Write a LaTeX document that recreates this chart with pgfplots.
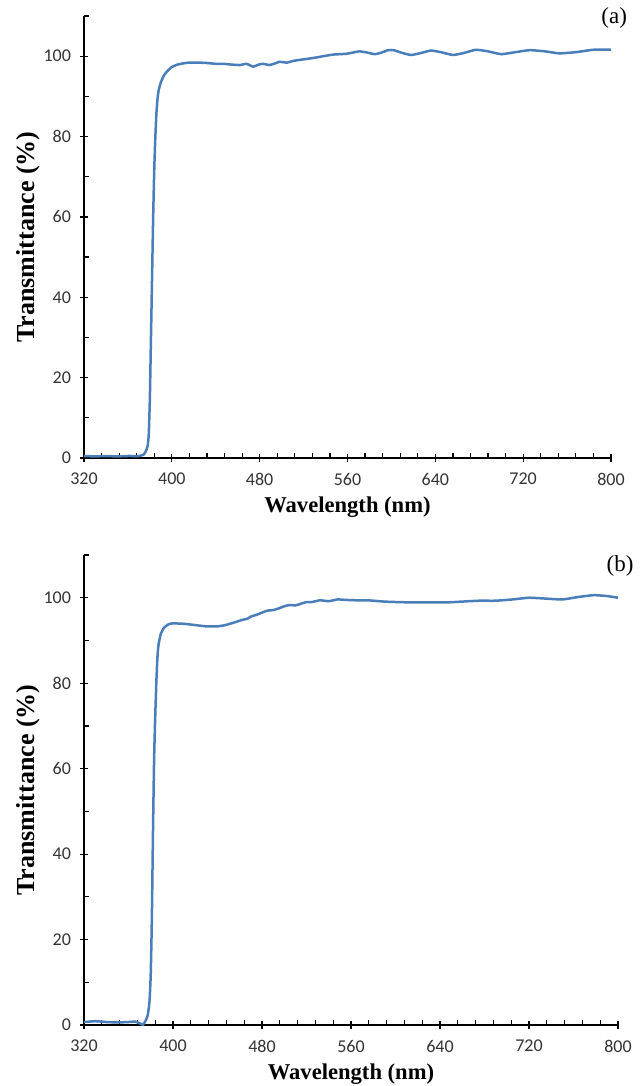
\documentclass[border=0pt]{standalone}
\usepackage{fontspec}
\setmainfont{Carlito}
\newfontfamily\serifb{Liberation Serif}
\usepackage{pgfplots}
\pgfplotsset{compat=1.18}
\definecolor{xlblue}{RGB}{74,126,187}

% transmittance spectra
\pgfplotstableread{
lam T
320 0.5
330 0.4
340 0.5
350 0.4
360 0.5
370 0.5
374 0.8
376 1.5
378 3
379 6
380 15
381 30
382 45
383 60
384 72
385 80
386 86
387 89.5
388 91.5
390 93.5
393 95.3
396 96.3
400 97.3
405 97.9
410 98.2
416 98.4
425 98.4
432 98.3
440 98.1
447 98.1
455 97.9
462 97.8
468 98.1
474 97.4
479 97.9
483 98.1
489 97.8
494 98.2
498 98.6
505 98.4
510 98.8
517 99.1
525 99.4
532 99.7
540 100.1
547 100.4
553 100.5
559 100.6
565 100.9
571 101.2
578 100.9
585 100.5
591 100.9
597 101.5
602 101.5
610 100.8
618 100.3
627 100.8
636 101.4
645 101.0
656 100.3
666 100.8
677 101.6
688 101.2
700 100.5
713 101.0
726 101.5
740 101.2
753 100.7
768 101.0
784 101.6
800 101.6
}\dataA

\pgfplotstableread{
lam T
320 0.7
325 0.8
330 0.9
335 0.8
340 0.7
350 0.6
360 0.7
366 0.8
370 0.4
373 0.1
375 0.8
377 2
378 3.5
379 6
380 12
381 25
382 45
383 62
384 72
385 80
386 86
387 89
389 91.5
392 93
396 93.8
400 94.0
410 93.9
420 93.6
430 93.3
440 93.3
447 93.6
455 94.2
462 94.8
467 95.1
470 95.6
475 96.0
480 96.5
485 97.0
490 97.1
495 97.5
500 98.0
505 98.3
510 98.2
515 98.6
520 99.0
525 99.0
532 99.4
540 99.2
548 99.6
555 99.5
565 99.4
575 99.4
590 99.1
600 99.0
615 98.9
630 98.9
645 98.9
660 99.1
675 99.3
690 99.3
705 99.6
720 100.0
735 99.8
750 99.6
765 100.2
778 100.6
790 100.4
800 100.0
}\dataB

\pgfplotsset{
  specstyle/.style={
    scale only axis,
    axis lines=left,
    axis line style={-, black, line width=0.6bp},
    xmin=320, xmax=800, ymin=0, ymax=110,
    xtick={320,400,...,800},
    ytick={0,20,...,100},
    minor x tick num=4,
    minor ytick={10,30,...,110},
    tick align=center,
    major tick length=4bp,
    minor tick length=2.5bp,
    minor x tick style={yshift=1.25bp},
    minor y tick style={xshift=1.25bp},
    tick style={black, line width=0.6bp},
    /pgf/number format/assume math mode=true,
    /pgf/number format/1000 sep={},
    ticklabel style={font=\fontsize{9bp}{10bp}\selectfont, text=black!80},
    xticklabel style={yshift=-2bp},
    yticklabel style={xshift=-1bp},
    xlabel={Wavelength (nm)},
    ylabel={Transmittance (\%)},
    xlabel style={font=\serifb\bfseries\fontsize{11.3bp}{12bp}\selectfont, yshift=1bp},
    ylabel style={font=\serifb\bfseries\fontsize{13bp}{14bp}\selectfont, yshift=-5bp},
    clip=false,
  }
}

\begin{document}
\begin{tikzpicture}
\path[use as bounding box] (0,0) rectangle (322bp,-543bp);

\begin{axis}[specstyle, at={(42bp,-229bp)}, anchor=south west,
  width=263.5bp, height=221bp]
\addplot[color=xlblue, line width=1.25bp, smooth, tension=0.3] table[x=lam, y=T] {\dataA};
\node[font=\serifb\fontsize{11.5bp}{12bp}\selectfont] at (rel axis cs:1.006,0.995) {(a)};
\end{axis}

\begin{axis}[specstyle, at={(42bp,-512.5bp)}, anchor=south west,
  width=267bp, height=235bp]
\addplot[color=xlblue, line width=1.25bp, smooth, tension=0.3] table[x=lam, y=T] {\dataB};
\node[font=\serifb\fontsize{11.5bp}{12bp}\selectfont] at (rel axis cs:1.004,0.977) {(b)};
\end{axis}
\end{tikzpicture}
\end{document}
